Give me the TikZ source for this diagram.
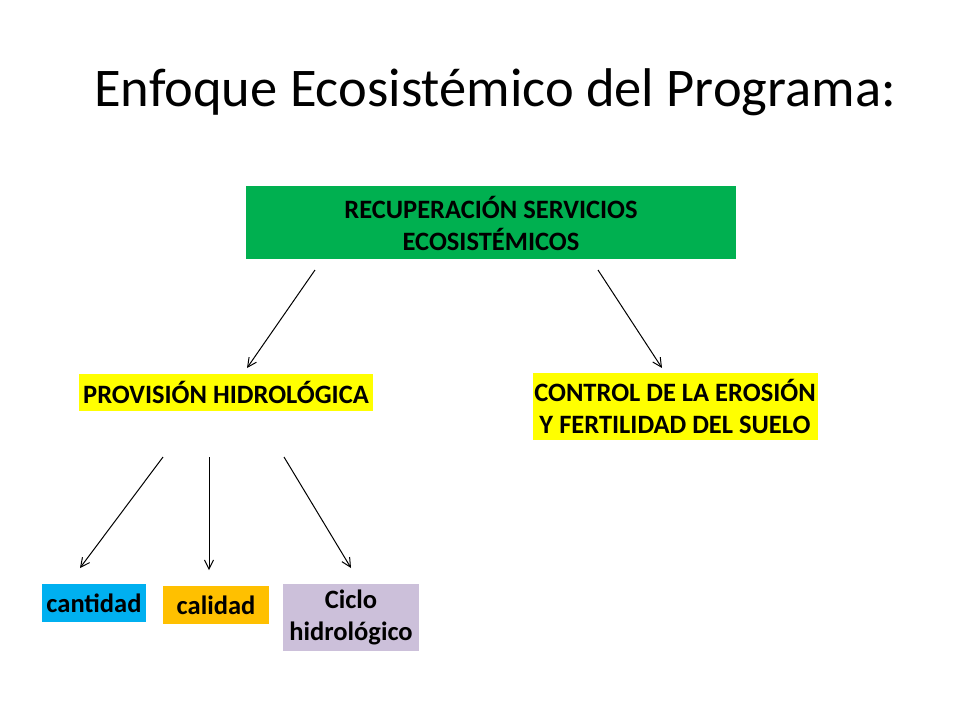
\documentclass[tikz,border=0pt]{standalone}
\usepackage{fontspec}
\setmainfont{Carlito}
\usetikzlibrary{arrows.meta}
\definecolor{g1}{RGB}{0,176,80}
\definecolor{ye}{RGB}{255,255,0}
\definecolor{bl}{RGB}{0,176,240}
\definecolor{or}{RGB}{255,192,0}
\definecolor{li}{RGB}{204,192,218}
\begin{document}
\begin{tikzpicture}[x=1pt,y=-1pt,
 bx/.style={inner sep=0pt,font=\bfseries\fontsize{26.5}{32}\selectfont,align=center},
 ar/.style={-{Straight Barb[length=9pt,width=9pt]},line width=1pt}]
\useasboundingbox (0,0) rectangle (960,720);
\node[font=\fontsize{54.5}{60}\selectfont] (t) at (495,92) {Enfoque Ecosistémico del Programa:};
\fill[g1] (246,186) rectangle (736,259);
\node[bx] (r) at (491,223) {RECUPERACIÓN SERVICIOS\\ECOSISTÉMICOS};
\fill[ye] (79,374) rectangle (373,411);
\node[bx] (p) at (226,392) {PROVISIÓN HIDROLÓGICA};
\fill[ye] (533,373) rectangle (818,440);
\node[bx] (c) at (675,406) {CONTROL DE LA EROSIÓN\\Y FERTILIDAD DEL SUELO};
\fill[bl] (42,584) rectangle (146,622);
\node[bx] (q) at (94,603) {cantidad};
\fill[or] (163,586) rectangle (269,624);
\node[bx] (k) at (216,605) {calidad};
\fill[li] (283,584) rectangle (419,651);
\node[bx] (h) at (351,617) {Ciclo\\hidrológico};
\coordinate (a1) at (315,270); \coordinate (b1) at (247,368);
\coordinate (a2) at (598,270); \coordinate (b2) at (662,368);
\coordinate (a3) at (163,457); \coordinate (b3) at (80,568);
\coordinate (a4) at (209,457); \coordinate (b4) at (209,570);
\coordinate (a5) at (284,457); \coordinate (b5) at (351,568);
\foreach \i in {1,...,5} \draw[ar] (a\i) -- (b\i);
\end{tikzpicture}
\end{document}
